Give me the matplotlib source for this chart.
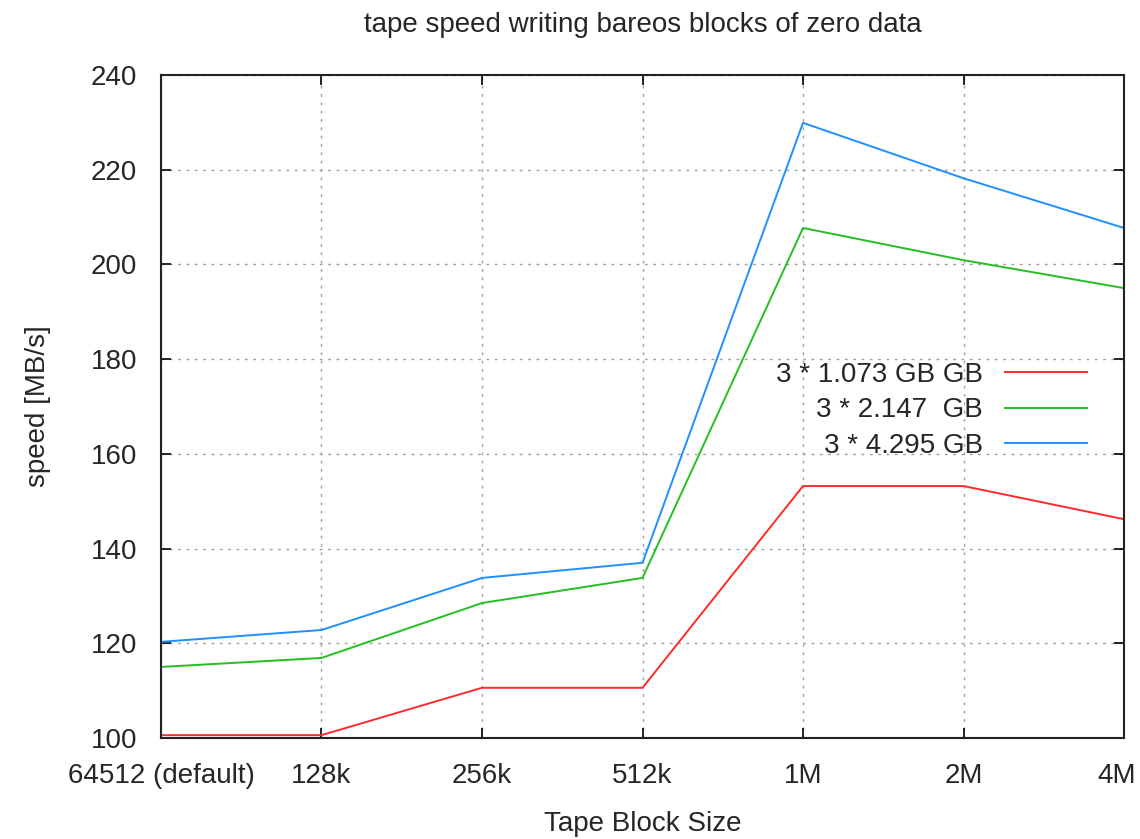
import matplotlib
matplotlib.use("Agg")
import matplotlib.pyplot as plt
import matplotlib.transforms as mtransforms

# block sizes used in the test
block_sizes = ["64512 (default)", "128k", "256k", "512k", "1M", "2M", "4M"]

speed_1gb = [100.6, 100.6, 110.6, 110.6, 153.2, 153.2, 146.2]
speed_2gb = [115.0, 116.9, 128.5, 133.8, 207.7, 200.9, 195.0]
speed_4gb = [120.3, 122.8, 133.8, 137.0, 229.9, 218.2, 207.7]

labels = ["3 * 1.073 GB GB", "3 * 2.147  GB", "3 * 4.295 GB"]
colors = ["#ff2a2a", "#22c022", "#1e90ff"]

plt.rcParams['font.family'] = ['Liberation Sans', 'DejaVu Sans']
txt_col = '#262626'

fig = plt.figure(figsize=(11.4, 8.39), dpi=100)
ax = fig.add_axes([0.1412, 0.1204, 0.8448, 0.7902])

x = list(range(len(block_sizes)))
for ys, lab, col in zip([speed_1gb, speed_2gb, speed_4gb], labels, colors):
    ax.plot(x, ys, color=col, linewidth=1.4, label=lab)

ax.set_xlim(0, len(block_sizes) - 1)
ax.set_ylim(100, 240)
ax.set_xticks(x)
ax.set_xticklabels(block_sizes)
ax.set_yticks(range(100, 241, 20))

ax.grid(color='#a0a0a0', linestyle=(0, (2, 4)), linewidth=1.0)
ax.tick_params(direction='in', length=7, width=1.2, labelsize=20,
               top=True, right=True, colors='black', labelcolor=txt_col)
ax.tick_params(axis='y', pad=17)
ax.tick_params(axis='x', pad=18)
for sp in ax.spines.values():
    sp.set_linewidth(1.5)
    sp.set_color('#222222')

# last tick label sits a little left, as gnuplot keeps it inside the canvas
last = ax.get_xticklabels()[-1]
last.set_transform(last.get_transform() +
                   mtransforms.ScaledTranslation(-7 / 100, 0, fig.dpi_scale_trans))

ax.set_title("tape speed writing bareos blocks of zero data", fontsize=20,
             color=txt_col, pad=31)
ax.set_xlabel("Tape Block Size", fontsize=20, color=txt_col, labelpad=16)
ax.set_ylabel("speed [MB/s]", fontsize=20, color=txt_col, labelpad=29)

leg = ax.legend(loc='center right', bbox_to_anchor=(0.9616, 0.494), frameon=False,
                markerfirst=False, fontsize=20, handlelength=2.95,
                labelspacing=0.35, handletextpad=0.8, borderpad=0, borderaxespad=0)
for t in leg.get_texts():
    t.set_color(txt_col)
    t.set_ha('right')

fig.savefig("out.png", dpi=100)
